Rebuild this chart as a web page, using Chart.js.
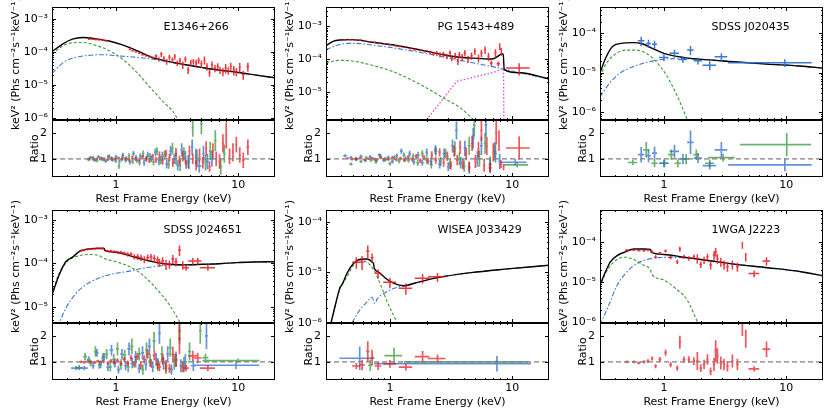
<!DOCTYPE html>
<html>
<head>
<meta charset="utf-8">
<script src="https://cdn.jsdelivr.net/npm/chart.js@4.4.1/dist/chart.umd.min.js"></script>
<style>
  html, body { margin: 0; padding: 0; background: #fff; }
  #fig { position: relative; width: 830px; height: 415px; overflow: hidden; background: #fff; }
  #fig canvas { position: absolute; }
</style>
</head>
<body>
<div id="fig"></div>
<script>
// ---------- axes ----------
const xMin = 0.3, xMax = 20;
const xMajor = [1, 10];
const xLabels = ['1', '10'];
const xMinor = [0.3, 0.4, 0.5, 0.6, 0.7, 0.8, 0.9, 2, 3, 4, 5, 6, 7, 8, 9, 20];
const powTicks = [1e-6, 1e-5, 1e-4, 1e-3];
const powLabels = ['10⁻⁶', '10⁻⁵', '10⁻⁴', '10⁻³'];
const minorMult = [2, 3, 4, 5, 6, 7, 8, 9];
const ratioMin = 0.3, ratioMax = 2.5;
const ratioTicks = [1, 2];
const ratioLabels = ['1', '2'];
const unityLine = [[0.3, 1], [20, 1]];

const panelNames = ['E1346+266', 'PG 1543+489', 'SDSS J020435', 'SDSS J024651', 'WISEA J033429', '1WGA J2223'];
const yMins = [8.5e-7, 1.45e-6, 6.2e-7, 4.2e-6, 9.9e-7, 9.3e-7];
const yMaxs = [2.26e-3, 3.85e-3, 4.7e-4, 1.7e-3, 1.7e-4, 6.2e-4];

// ---------- E1346+266 ----------
// models: [E keV, keV^2 flux]
const p1Total = [[0.30,1.0e-4],[0.366,1.7e-4],[0.44,2.4e-4],[0.533,2.7e-4],[0.686,2.45e-4],[0.88,2.1e-4],[1.13,1.6e-4],[1.55,1.0e-4],[2.0,6.6e-5],[2.73,5.0e-5],[3.74,4.0e-5],[5.1,3.3e-5],[7.0,2.75e-5],[10,2.34e-5],[14,1.95e-5],[20.4,1.6e-5]];
const p1Soft = [[0.30,8.5e-5],[0.366,1.48e-4],[0.44,1.86e-4],[0.533,1.9e-4],[0.686,1.55e-4],[0.88,1.07e-4],[1.13,6.0e-5],[1.46,2.5e-5],[1.87,8.9e-6],[2.4,3.2e-6],[3.1,1.1e-6],[3.3,6e-7]];
const p1Pow = [[0.30,2.2e-5],[0.366,4.5e-5],[0.44,6.3e-5],[0.57,7.6e-5],[0.78,8.1e-5],[1.06,7.4e-5],[1.46,6.8e-5],[2.0,5.9e-5],[2.73,4.9e-5],[3.74,4.0e-5],[5.1,3.3e-5],[7.0,2.75e-5],[10,2.34e-5],[14,1.95e-5],[20.4,1.6e-5]];
// data: [E, F, dE, dF]
const p1Red = [[0.605,2.4e-4,0.015,1.5e-5],[0.644,2.4e-4,0.016,1.5e-5],[0.686,2.35e-4,0.017,1.5e-5],[0.73,2.3e-4,0.018,1.5e-5],[0.777,2.24e-4,0.019,1.5e-5],[0.828,2.14e-4,0.02,1.5e-5],
  [1.30,1.17e-4,0.03,7e-6],[1.37,1.07e-4,0.03,7e-6],[1.46,9.8e-5,0.035,6e-6],[1.55,8.9e-5,0.035,6e-6],[1.65,8.1e-5,0.04,6e-6],[1.76,7.6e-5,0.04,6e-6],[1.88,7.1e-5,0.045,6e-6],[2.0,6.6e-5,0.045,6e-6],
  [2.13,7.4e-5,0.05,1.0e-5],[2.24,5.9e-5,0.05,9e-6],[2.35,8.3e-5,0.05,1.5e-5],[2.47,6.3e-5,0.05,1.0e-5],[2.6,5.0e-5,0.06,1.0e-5],[2.74,6.8e-5,0.06,1.3e-5],[2.9,5.6e-5,0.06,1.1e-5],[3.03,7.1e-5,0.06,1.4e-5],[3.18,4.5e-5,0.07,9e-6],[3.34,5.4e-5,0.07,1.1e-5],[3.52,4.0e-5,0.07,1.0e-5],[3.7,5.9e-5,0.08,1.2e-5],[3.9,2.8e-5,0.08,7e-6],[4.1,4.7e-5,0.08,1.0e-5],[4.3,5.0e-5,0.09,1.0e-5],[4.53,4.5e-5,0.09,1.2e-5],[4.75,5.4e-5,0.1,1.1e-5],[5.0,4.3e-5,0.1,1.1e-5],[5.3,5.6e-5,0.1,1.5e-5],[5.55,3.55e-5,0.11,9e-6],[5.83,2.34e-5,0.12,6e-6],[6.1,4.0e-5,0.12,1.0e-5],[6.45,3.2e-5,0.13,8e-6],[6.8,3.55e-5,0.14,9e-6],[7.1,2.8e-5,0.14,7e-6],[7.5,2.5e-5,0.15,7e-6],[7.9,3.2e-5,0.16,1.0e-5],[8.3,2.7e-5,0.17,7e-6],[8.7,3.55e-5,0.17,1.1e-5],[9.2,2.8e-5,0.18,9e-6],[9.65,2.5e-5,0.19,7e-6],[10.3,3.4e-5,0.2,1.1e-5],[11.0,2.0e-5,0.25,6e-6],[12.0,3.55e-5,0.3,1.1e-5]];
// ratios: [E, ratio, dE, dRatio]
const p1RatioRed = [[0.6,1.0,0.015,0.04],[0.65,0.98,0.016,0.04],[0.7,1.01,0.017,0.04],[0.75,0.99,0.018,0.04],[0.8,1.02,0.02,0.04],[0.86,0.97,0.02,0.05],[0.92,1.03,0.02,0.05],[0.98,0.99,0.025,0.05],[1.05,1.04,0.025,0.05],[1.12,0.98,0.03,0.06],[1.2,1.02,0.03,0.06],[1.28,0.97,0.03,0.06],[1.36,1.05,0.03,0.07],[1.45,1.0,0.035,0.07],[1.55,0.95,0.035,0.07],[1.65,1.08,0.04,0.08],[1.76,1.0,0.04,0.08],[1.88,0.93,0.045,0.09],[2.0,1.1,0.045,0.1],[2.13,0.96,0.05,0.12],[2.27,1.15,0.05,0.13],[2.41,0.9,0.05,0.13],[2.57,1.2,0.06,0.15],[2.74,1.05,0.06,0.15],[2.92,0.85,0.06,0.15],[3.1,1.25,0.07,0.17],[3.31,0.95,0.07,0.17],[3.52,1.1,0.07,0.2],[3.75,0.8,0.08,0.18],[3.99,1.3,0.08,0.22],[4.25,1.0,0.09,0.2],[4.53,0.75,0.09,0.2],[4.83,1.15,0.1,0.25],[5.14,0.85,0.1,0.22],[5.47,1.4,0.11,0.28],[5.83,0.7,0.12,0.2],[6.21,1.3,0.12,0.3],[6.61,1.0,0.13,0.28],[7.04,0.9,0.14,0.28],[7.5,1.6,0.15,0.35],[7.98,1.9,0.16,0.5],[8.5,1.1,0.17,0.3],[9.06,1.25,0.18,0.35],[9.65,1.55,0.19,0.3],[10.3,1.15,0.2,0.3],[11.0,0.95,0.25,0.3],[12.0,1.45,0.3,0.3]];
const p1RatioBlue = [[0.62,1.05,0.02,0.06],[0.67,0.95,0.02,0.06],[0.72,1.08,0.02,0.06],[0.77,1.0,0.02,0.07],[0.83,0.92,0.02,0.07],[0.88,1.1,0.02,0.07],[0.94,0.97,0.025,0.08],[1.0,1.08,0.025,0.08],[1.07,0.9,0.025,0.08],[1.14,1.15,0.03,0.09],[1.22,1.0,0.03,0.09],[1.3,0.88,0.03,0.1],[1.39,1.2,0.035,0.1],[1.48,0.95,0.035,0.1],[1.58,1.1,0.04,0.11],[1.7,0.85,0.04,0.12],[1.82,1.15,0.045,0.12],[1.95,1.0,0.05,0.13],[2.1,1.25,0.05,0.15],[2.25,0.9,0.05,0.15],[2.4,1.1,0.06,0.17],[2.6,0.8,0.06,0.17],[2.8,1.3,0.07,0.2],[3.0,1.0,0.07,0.2],[3.2,0.75,0.08,0.2],[3.45,1.35,0.08,0.25],[3.7,1.05,0.09,0.25],[3.95,0.85,0.1,0.25],[4.2,1.45,0.1,0.3],[4.5,1.1,0.1,0.3],[4.8,0.72,0.2,0.25],[5.2,1.2,0.12,0.3],[5.6,0.9,0.15,0.3],[6.1,1.0,0.2,0.3]];
const p1RatioGreen = [[0.6,0.97,0.02,0.06],[0.65,1.05,0.02,0.06],[0.7,0.93,0.02,0.06],[0.75,1.02,0.02,0.07],[0.8,0.95,0.02,0.07],[0.86,1.08,0.02,0.07],[0.92,1.0,0.025,0.08],[1.0,0.92,0.025,0.08],[1.06,0.72,0.025,0.1],[1.13,1.05,0.03,0.09],[1.2,0.95,0.03,0.09],[1.28,1.12,0.03,0.1],[1.37,0.9,0.035,0.1],[1.46,1.05,0.035,0.1],[1.56,0.85,0.04,0.11],[1.67,1.2,0.04,0.12],[1.78,1.0,0.045,0.12],[1.9,1.1,0.05,0.13],[2.03,0.88,0.05,0.14],[2.17,1.3,0.05,0.15],[2.33,0.95,0.06,0.16],[2.5,1.15,0.06,0.17],[2.7,0.8,0.07,0.18],[2.9,1.4,0.07,0.22],[3.1,1.0,0.08,0.22],[3.35,0.75,0.08,0.22],[3.6,1.2,0.09,0.25],[3.9,0.9,0.1,0.25],[4.25,2.2,0.1,0.35],[4.6,1.05,0.1,0.3],[5.0,2.35,0.12,0.4],[5.4,0.85,0.12,0.3],[5.9,1.3,0.15,0.35],[6.5,1.7,0.15,0.4],[7.2,0.7,0.2,0.3],[7.7,1.2,0.2,0.35]];

// ---------- PG 1543+489 ----------
const p2Total = [[0.30,2.6e-4],[0.343,3.5e-4],[0.389,3.85e-4],[0.47,3.95e-4],[0.567,3.8e-4],[0.686,3.35e-4],[1.0,2.8e-4],[1.46,2.2e-4],[2.0,1.75e-4],[2.74,1.38e-4],[3.75,1.15e-4],[5.14,1.07e-4],[6.8,1.02e-4],[7.5,1.18e-4],[8.2,1.45e-4],[8.45,1.45e-4],[8.6,4.9e-5],[11.6,3.9e-5],[20.4,2.5e-5]];
const p2Soft = [[0.30,8.1e-5],[0.389,9.3e-5],[0.47,9.1e-5],[0.567,8.1e-5],[0.777,6.1e-5],[1.0,4.6e-5],[1.46,2.5e-5],[2.0,1.35e-5],[2.74,6.7e-6],[3.75,3.4e-6],[4.83,1.5e-6],[5.5,1.0e-6]];
const p2Pow = [[0.30,1.96e-4],[0.389,2.8e-4],[0.47,3.05e-4],[0.567,3.0e-4],[0.777,2.6e-4],[1.0,2.3e-4],[1.46,1.83e-4],[2.0,1.49e-4],[2.74,1.18e-4],[3.75,9.3e-5],[5.14,7.4e-5],[7.04,5.9e-5],[8.5,5.1e-5],[11.6,3.9e-5],[20.4,2.5e-5]];
const p2Line = [[1.84,1.0e-6],[3.52,2.15e-5],[5.14,3.05e-5],[7.04,4.0e-5],[8.2,5.1e-5],[8.5,5.2e-5],[8.55,1.0e-6]];
const p2Red = [[0.43,3.94e-4,0.012,2.0e-5],[0.47,3.94e-4,0.013,2.0e-5],[0.52,3.9e-4,0.014,2.0e-5],[0.567,3.77e-4,0.015,1.9e-5],[0.62,3.6e-4,0.016,1.8e-5],[0.686,3.43e-4,0.018,1.7e-5],[0.75,3.27e-4,0.02,1.7e-5],[0.83,3.12e-4,0.022,1.6e-5],[0.91,2.98e-4,0.024,1.6e-5],[1.0,2.78e-4,0.026,1.5e-5],[1.1,2.59e-4,0.028,1.5e-5],[1.2,2.48e-4,0.03,1.5e-5],[1.32,2.31e-4,0.033,1.5e-5],[1.46,2.15e-4,0.036,1.5e-5],[1.6,1.96e-4,0.04,1.5e-5],[1.76,1.87e-4,0.044,1.5e-5],[1.93,1.75e-4,0.048,1.6e-5],[2.13,1.63e-4,0.05,2.0e-5],[2.27,1.48e-4,0.05,2.0e-5],[2.41,1.56e-4,0.05,2.2e-5],[2.57,1.38e-4,0.06,2.2e-5],[2.74,1.45e-4,0.06,2.5e-5],[2.92,1.23e-4,0.06,2.2e-5],[3.1,1.56e-4,0.07,3.0e-5],[3.2,1.1e-4,0.07,2.2e-5],[3.42,1.29e-4,0.07,2.8e-5],[3.6,8.7e-5,0.08,2.0e-5],[3.7,1.38e-4,0.08,3.0e-5],[3.9,1.18e-4,0.08,2.8e-5],[4.1,1.56e-4,0.09,3.5e-5],[4.35,1.02e-4,0.09,2.5e-5],[4.65,1.29e-4,0.1,3.2e-5],[4.95,1.75e-4,0.1,4.0e-5],[5.3,1.1e-4,0.11,3.0e-5],[5.6,1.56e-4,0.12,4.0e-5],[6.0,1.96e-4,0.12,5.0e-5],[6.4,1.23e-4,0.13,3.5e-5],[6.75,7.74e-5,0.2,1.5e-5],[7.3,1.56e-4,0.15,4.5e-5],[7.7,7.4e-5,0.25,1.2e-5],[7.9,2.48e-4,0.1,6.0e-5],[8.15,1.75e-4,0.1,5.0e-5],[11.4,5.46e-5,2.5,2.2e-5]];
const p2RatioRed = [[0.45,1.02,0.012,0.04],[0.49,0.98,0.013,0.04],[0.53,1.0,0.014,0.04],[0.57,1.03,0.015,0.04],[0.62,0.97,0.016,0.04],[0.67,1.0,0.017,0.04],[0.72,1.02,0.018,0.05],[0.78,0.96,0.02,0.05],[0.84,1.04,0.022,0.05],[0.9,1.0,0.024,0.05],[0.97,0.98,0.026,0.05],[1.05,1.05,0.028,0.06],[1.13,0.97,0.03,0.06],[1.22,1.02,0.032,0.06],[1.31,0.95,0.034,0.07],[1.41,1.07,0.036,0.07],[1.52,0.98,0.04,0.08],[1.64,1.1,0.042,0.09],[1.77,0.93,0.045,0.09],[1.9,1.05,0.05,0.1],[2.05,0.9,0.05,0.12],[2.2,1.15,0.05,0.14],[2.37,0.95,0.06,0.14],[2.55,1.25,0.06,0.16],[2.75,0.85,0.06,0.15],[2.95,1.1,0.07,0.18],[3.15,0.75,0.07,0.16],[3.35,1.3,0.07,0.22],[3.55,0.95,0.08,0.2],[3.75,1.45,0.08,0.25],[3.95,0.8,0.08,0.2],[4.2,1.2,0.09,0.25],[4.45,0.7,0.09,0.2],[4.7,1.6,0.1,0.3],[5.0,0.9,0.1,0.25],[5.3,1.35,0.11,0.3],[5.6,2.1,0.12,0.4],[5.9,0.75,0.12,0.25],[6.2,1.5,0.13,0.35],[6.6,0.65,0.2,0.2],[7.0,1.25,0.14,0.35],[7.4,2.0,0.15,0.45],[7.8,1.7,0.1,0.4],[8.1,0.8,0.15,0.15],[8.5,0.68,0.15,0.12],[11.4,1.42,2.5,0.45]];
const p2RatioBlue = [[0.43,1.12,0.015,0.06],[0.48,1.05,0.015,0.06],[0.53,0.97,0.016,0.06],[0.58,1.1,0.017,0.06],[0.63,0.93,0.018,0.06],[0.69,1.08,0.02,0.07],[0.75,0.98,0.022,0.07],[0.82,1.15,0.024,0.07],[0.89,0.95,0.026,0.08],[0.97,1.05,0.028,0.08],[1.05,0.9,0.03,0.08],[1.14,1.12,0.032,0.09],[1.24,1.3,0.035,0.1],[1.34,1.0,0.038,0.1],[1.45,1.2,0.04,0.11],[1.57,0.88,0.044,0.11],[1.7,1.15,0.048,0.12],[1.84,0.85,0.05,0.12],[2.0,1.25,0.05,0.15],[2.17,0.9,0.06,0.15],[2.35,1.35,0.06,0.18],[2.55,0.8,0.07,0.17],[2.77,1.2,0.07,0.2],[3.0,0.7,0.08,0.18],[3.25,1.5,0.08,0.25],[3.5,2.1,0.09,0.35],[3.8,0.85,0.1,0.22],[4.1,1.4,0.1,0.3],[4.45,0.65,0.11,0.22],[4.8,1.8,0.12,0.4],[5.2,1.0,0.13,0.3],[5.6,1.5,0.14,0.35],[6.1,2.3,0.15,0.45],[6.6,0.75,0.16,0.25],[7.2,1.3,0.18,0.35],[7.9,0.9,0.2,0.3],[10.6,0.87,2.5,0.12]];
const p2RatioGreen = [[0.48,0.8,0.015,0.06],[0.53,1.02,0.016,0.06],[0.58,0.9,0.017,0.06],[0.64,1.05,0.018,0.06],[0.7,0.95,0.02,0.07],[0.77,0.88,0.022,0.07],[0.84,1.1,0.024,0.08],[0.92,0.98,0.026,0.08],[1.0,0.82,0.028,0.08],[1.09,1.05,0.03,0.09],[1.19,0.92,0.033,0.09],[1.3,1.15,0.036,0.1],[1.42,0.95,0.04,0.1],[1.55,1.1,0.043,0.11],[1.69,0.85,0.047,0.12],[1.84,1.2,0.05,0.13],[2.0,0.95,0.055,0.14],[2.18,0.78,0.06,0.15],[2.38,1.3,0.065,0.18],[2.6,0.9,0.07,0.18],[2.85,1.2,0.08,0.2],[3.1,0.8,0.085,0.2],[3.4,1.4,0.09,0.28],[3.7,1.0,0.1,0.25],[4.05,0.72,0.11,0.22],[4.45,1.5,0.12,0.35],[4.9,2.3,0.13,0.45],[5.4,1.0,0.15,0.3],[6.0,1.6,0.16,0.4],[6.6,0.8,0.18,0.3],[7.3,1.2,0.2,0.35],[11.0,0.77,2.5,0.1]];

// ---------- SDSS J020435 ----------
const p3Total = [[0.30,1.0e-5],[0.337,2.5e-5],[0.38,4.6e-5],[0.447,5.55e-5],[0.557,5.8e-5],[0.673,5.35e-5],[0.81,4.1e-5],[1.0,3.1e-5],[1.43,2.45e-5],[1.96,2.2e-5],[3.68,1.9e-5],[6.9,1.65e-5],[12.9,1.47e-5],[20.1,1.3e-5]];
const p3Soft = [[0.30,8.1e-6],[0.337,1.7e-5],[0.41,3.1e-5],[0.49,3.75e-5],[0.59,3.75e-5],[0.717,3.1e-5],[0.865,1.9e-5],[1.045,8.7e-6],[1.26,2.9e-6],[1.48,9.1e-7],[1.6,5e-7]];
const p3Pow = [[0.30,2.4e-6],[0.358,5.3e-6],[0.433,9.5e-6],[0.557,1.41e-5],[0.763,1.9e-5],[1.0,2.2e-5],[1.43,2.25e-5],[1.96,2.2e-5],[3.68,1.9e-5],[6.9,1.65e-5],[12.9,1.47e-5],[20.1,1.3e-5]];
const p3Blue = [[0.652,6.5e-5,0.04,1.7e-5],[0.748,5.55e-5,0.035,1.3e-5],[0.838,5.25e-5,0.04,1.2e-5],[1.0,2.44e-5,0.09,5e-6],[1.22,3.1e-5,0.11,7e-6],[1.43,2.17e-5,0.12,4e-6],[1.65,3.75e-5,0.1,1.0e-5],[1.9,2.0e-5,0.15,4e-6],[2.37,1.55e-5,0.3,4e-6],[2.95,2.53e-5,0.35,6e-6],[9.75,1.78e-5,6.4,4e-6]];
const p3RatioBlue = [[0.652,1.16,0.04,0.3],[0.748,1.12,0.035,0.25],[0.838,1.22,0.04,0.25],[1.0,0.83,0.09,0.15],[1.22,1.29,0.11,0.25],[1.43,1.0,0.12,0.2],[1.65,1.64,0.1,0.45],[1.9,1.03,0.15,0.2],[2.37,0.74,0.3,0.15],[2.95,1.35,0.35,0.3],[9.75,0.77,6.4,0.25]];
const p3RatioGreen = [[0.557,0.86,0.05,0.1],[0.717,1.35,0.04,0.3],[0.838,0.83,0.05,0.15],[1.01,0.83,0.08,0.15],[1.15,1.16,0.07,0.2],[1.3,0.83,0.08,0.15],[1.52,0.99,0.09,0.2],[1.84,1.16,0.1,0.2],[2.37,0.83,0.2,0.15],[3.05,1.05,0.75,0.15],[10.1,1.55,5.9,0.45]];

// ---------- SDSS J024651 ----------
const p4Total = [[0.30,1.86e-5],[0.343,5.4e-5],[0.389,1.09e-4],[0.44,1.37e-4],[0.50,1.86e-4],[0.567,2.1e-4],[0.686,2.2e-4],[0.80,2.2e-4],[0.82,1.93e-4],[1.0,1.8e-4],[1.29,1.5e-4],[1.65,1.24e-4],[2.13,1.05e-4],[2.74,9.5e-5],[3.75,9.2e-5],[5.14,9.5e-5],[7.04,9.8e-5],[9.65,1.04e-4],[13.2,1.07e-4],[20.4,1.09e-4]];
const p4Soft = [[0.30,2.0e-5],[0.343,5.9e-5],[0.415,1.2e-4],[0.50,1.5e-4],[0.605,1.6e-4],[0.73,1.5e-4],[0.80,1.3e-4],[1.0,1.09e-4],[1.29,8.4e-5],[1.65,5.4e-5],[2.13,2.65e-5],[2.74,1.1e-5],[3.31,4.5e-6],[3.64,2.6e-6]];
const p4Pow = [[0.31,2.0e-6],[0.389,9.2e-6],[0.47,2.0e-5],[0.567,3.2e-5],[0.777,4.9e-5],[1.0,5.9e-5],[1.29,6.6e-5],[1.65,7.7e-5],[2.13,8.5e-5],[2.74,9.2e-5],[3.75,9.2e-5],[5.14,9.5e-5],[7.04,9.8e-5],[9.65,1.04e-4],[13.2,1.07e-4],[20.4,1.09e-4]];
const p4Red = [[0.517,1.96e-4,0.015,1.2e-5],[0.55,2.03e-4,0.016,1.2e-5],[0.586,2.1e-4,0.017,1.2e-5],[0.624,2.14e-4,0.018,1.2e-5],[0.665,2.18e-4,0.019,1.2e-5],[0.708,2.22e-4,0.02,1.2e-5],[0.754,2.22e-4,0.021,1.2e-5],[0.787,2.22e-4,0.015,1.3e-5],[0.855,1.93e-4,0.024,1.3e-5],[0.91,1.93e-4,0.026,1.3e-5],[0.969,1.86e-4,0.028,1.4e-5],[1.032,1.79e-4,0.03,1.4e-5],[1.099,1.79e-4,0.03,1.5e-5],[1.17,1.7e-4,0.035,1.6e-5],[1.246,1.61e-4,0.035,1.8e-5],[1.327,1.61e-4,0.04,2.0e-5],[1.413,1.42e-4,0.04,2.0e-5],[1.505,1.42e-4,0.045,2.2e-5],[1.603,1.35e-4,0.045,2.2e-5],[1.707,1.24e-4,0.05,2.2e-5],[1.818,1.35e-4,0.05,2.5e-5],[1.936,1.4e-4,0.055,2.5e-5],[2.06,1.3e-4,0.06,2.5e-5],[2.19,1.19e-4,0.06,2.5e-5],[2.27,1.05e-4,0.06,2.2e-5],[2.41,1.13e-4,0.07,2.5e-5],[2.57,9.5e-5,0.07,2.5e-5],[2.74,9.5e-5,0.08,2.0e-5],[2.92,1.26e-4,0.08,3.0e-5],[3.1,1.09e-4,0.09,2.5e-5],[3.31,2.03e-4,0.09,5.5e-5],[3.52,9.2e-5,0.1,2.0e-5],[3.75,7.9e-5,0.2,1.2e-5],[4.25,1.13e-4,0.35,2.0e-5],[4.67,1.13e-4,0.35,2.0e-5],[5.65,7.9e-5,0.8,1.2e-5]];
const p4RatioRed = [[0.52,1.0,0.015,0.05],[0.55,0.98,0.016,0.05],[0.59,1.02,0.017,0.05],[0.62,1.0,0.018,0.05],[0.67,0.97,0.019,0.05],[0.71,1.03,0.02,0.05],[0.75,1.0,0.021,0.05],[0.79,1.02,0.015,0.06],[0.86,0.96,0.024,0.06],[0.91,1.04,0.026,0.07],[0.97,0.98,0.028,0.07],[1.03,1.06,0.03,0.08],[1.1,0.93,0.03,0.08],[1.17,1.1,0.035,0.09],[1.25,0.95,0.035,0.1],[1.33,1.15,0.04,0.12],[1.41,0.9,0.04,0.12],[1.5,1.2,0.045,0.14],[1.6,0.85,0.045,0.14],[1.7,1.1,0.05,0.15],[1.82,1.3,0.05,0.18],[1.94,0.95,0.055,0.16],[2.06,1.25,0.06,0.2],[2.19,0.9,0.06,0.18],[2.27,0.8,0.06,0.16],[2.41,1.1,0.07,0.2],[2.57,0.85,0.07,0.22],[2.74,0.75,0.08,0.18],[2.92,1.3,0.08,0.28],[3.1,1.05,0.09,0.25],[3.31,1.9,0.09,0.6],[3.52,0.8,0.1,0.2],[3.75,0.76,0.2,0.12],[4.25,1.23,0.35,0.2],[4.67,1.15,0.35,0.2],[5.65,0.76,0.8,0.12]];
const p4RatioBlue = [[0.47,0.76,0.04,0.08],[0.55,0.76,0.04,0.08],[0.6,1.1,0.02,0.12],[0.65,0.85,0.02,0.12],[0.7,1.35,0.02,0.15],[0.75,0.9,0.02,0.14],[0.8,1.2,0.025,0.15],[0.86,0.8,0.025,0.15],[0.92,1.45,0.03,0.2],[0.98,0.95,0.03,0.17],[1.05,0.7,0.03,0.15],[1.12,1.3,0.035,0.2],[1.2,0.85,0.035,0.18],[1.28,1.5,0.04,0.25],[1.36,0.95,0.04,0.2],[1.45,1.2,0.045,0.22],[1.55,0.75,0.045,0.18],[1.65,1.35,0.05,0.25],[1.76,0.9,0.05,0.22],[1.88,1.6,0.055,0.3],[2.0,0.8,0.06,0.2],[2.13,1.1,0.06,0.25],[2.27,2.1,0.06,0.4],[2.45,0.95,0.07,0.25],[2.65,1.3,0.07,0.3],[2.85,0.7,0.08,0.2],[3.1,1.1,0.09,0.3],[3.4,0.85,0.1,0.25],[3.7,1.0,0.1,0.3],[4.3,0.85,0.2,0.2],[5.5,2.0,0.15,0.5],[9.6,0.87,5.3,0.15]];
const p4RatioGreen = [[0.5,0.78,0.03,0.1],[0.56,1.2,0.02,0.15],[0.62,0.95,0.02,0.12],[0.68,1.4,0.02,0.2],[0.73,0.88,0.02,0.15],[0.78,1.15,0.025,0.18],[0.84,1.3,0.025,0.2],[0.9,0.8,0.025,0.17],[0.96,1.1,0.03,0.2],[1.03,1.5,0.03,0.25],[1.1,0.9,0.03,0.2],[1.18,1.25,0.035,0.22],[1.26,0.8,0.035,0.2],[1.35,1.6,0.04,0.3],[1.45,1.0,0.04,0.22],[1.55,1.3,0.045,0.25],[1.66,0.7,0.045,0.2],[1.78,1.45,0.05,0.3],[1.9,1.05,0.05,0.25],[2.05,1.8,0.06,0.35],[2.2,0.9,0.06,0.25],[2.38,1.3,0.07,0.3],[2.56,0.75,0.07,0.22],[2.78,1.55,0.08,0.35],[3.0,1.0,0.08,0.3],[3.31,2.2,0.09,0.5],[3.6,0.9,0.1,0.3],[4.0,1.4,0.12,0.35],[4.9,2.2,0.12,0.5],[5.4,1.16,0.3,0.15],[10.0,1.05,4.9,0.08]];

// ---------- WISEA J033429 ----------
const p5Total = [[0.33,1.0e-6],[0.357,2.2e-6],[0.392,5.1e-6],[0.405,5.6e-6],[0.445,9.5e-6],[0.505,1.5e-5],[0.573,1.8e-5],[0.65,1.82e-5],[0.715,1.6e-5],[0.735,1.45e-5],[0.745,1.2e-5],[0.81,1.0e-5],[0.92,7.6e-6],[1.08,6.0e-6],[1.3,5.4e-6],[1.68,6.3e-6],[2.45,7.8e-6],[4.6,9.8e-6],[8.7,1.15e-5],[20.4,1.38e-5]];
const p5Soft = [[0.33,1.0e-6],[0.357,2.2e-6],[0.392,4.8e-6],[0.445,8.1e-6],[0.505,1.38e-5],[0.573,1.74e-5],[0.65,1.57e-5],[0.738,1.1e-5],[0.84,5.6e-6],[0.95,2.6e-6],[1.15,9.8e-7]];
const p5Pow = [[0.49,1.0e-6],[0.555,1.66e-6],[0.65,2.6e-6],[0.715,3.2e-6],[0.75,2.4e-6],[0.79,3.0e-6],[0.89,3.8e-6],[1.08,4.8e-6],[1.3,5.4e-6],[1.68,6.3e-6],[2.45,7.8e-6],[4.6,9.8e-6],[8.7,1.15e-5],[20.4,1.38e-5]];
const p5Red = [[0.531,1.57e-5,0.04,4e-6],[0.592,1.6e-5,0.03,5e-6],[0.659,2.63e-5,0.02,7.5e-6],[0.715,1.94e-5,0.02,4e-6],[0.80,9.5e-6,0.05,2e-6],[1.0,6.3e-6,0.12,1.5e-6],[1.35,4.8e-6,0.17,1.2e-6],[1.85,7.6e-6,0.25,1.6e-6],[2.45,8.1e-6,0.4,1.6e-6]];
const p5RatioRed = [[0.531,0.84,0.04,0.12],[0.592,0.88,0.03,0.2],[0.659,1.4,0.02,0.4],[0.715,1.17,0.02,0.3],[0.80,0.84,0.05,0.15],[1.0,0.92,0.12,0.15],[1.35,0.8,0.17,0.13],[1.85,1.2,0.25,0.22],[2.45,1.13,0.4,0.15]];
const p5RatioBlue = [[0.566,1.14,0.18,0.45],[7.5,0.93,6.76,0.3]];
const p5RatioGreen = [[0.69,0.87,0.03,0.22],[1.08,1.24,0.18,0.3],[7.4,1.0,6.1,0.05]];

// ---------- 1WGA J2223 ----------
const p6Total = [[0.30,8.3e-6],[0.333,1.78e-5],[0.366,3.16e-5],[0.415,4.5e-5],[0.485,5.6e-5],[0.567,6.6e-5],[0.686,6.6e-5],[0.777,6.4e-5],[0.79,5.4e-5],[1.0,4.8e-5],[1.46,4.1e-5],[2.0,3.6e-5],[3.75,2.76e-5],[7.04,2.24e-5],[13.2,1.78e-5],[20.0,1.41e-5]];
const p6Soft = [[0.30,7.5e-6],[0.333,1.62e-5],[0.38,2.9e-5],[0.427,3.8e-5],[0.485,4.1e-5],[0.567,3.6e-5],[0.664,2.7e-5],[0.777,1.95e-5],[0.80,1.5e-5],[1.0,1.1e-5],[1.29,6.2e-6],[1.55,3.5e-6],[1.88,1.0e-6],[1.95,8e-7]];
const p6Pow = [[0.30,8.2e-7],[0.354,2.6e-6],[0.415,8.3e-6],[0.50,1.78e-5],[0.605,2.9e-5],[0.73,3.6e-5],[0.882,4.0e-5],[1.065,4.05e-5],[1.29,4.05e-5],[1.55,3.95e-5],[2.0,3.6e-5],[3.75,2.76e-5],[7.04,2.24e-5],[13.2,1.78e-5],[20.0,1.41e-5]];
const p6Red = [[0.50,6.2e-5,0.02,3e-6],[0.567,6.2e-5,0.02,3e-6],[0.624,6.0e-5,0.02,3e-6],[0.686,5.95e-5,0.02,3e-6],[0.74,6.2e-5,0.02,4e-6],[0.80,5.6e-5,0.02,4e-6],[0.855,4.2e-5,0.02,4e-6],[0.927,5.2e-5,0.025,4e-6],[1.032,5.85e-5,0.025,5e-6],[1.134,4.05e-5,0.03,4e-6],[1.286,3.16e-5,0.03,4e-6],[1.35,6.55e-5,0.03,9e-6],[1.46,4.2e-5,0.04,5e-6],[1.6,3.83e-5,0.04,5e-6],[1.76,4.2e-5,0.04,6e-6],[1.876,3.83e-5,0.05,1.0e-5],[2.0,2.71e-5,0.05,5e-6],[2.13,3.48e-5,0.05,7e-6],[2.27,4.2e-5,0.05,8e-6],[2.41,2.61e-5,0.06,6e-6],[2.57,4.6e-5,0.06,1.2e-5],[2.65,5.6e-5,0.06,1.4e-5],[2.74,3.83e-5,0.06,1.0e-5],[2.92,3.16e-5,0.07,8e-6],[3.1,2.71e-5,0.07,7e-6],[3.31,2.37e-5,0.08,6e-6],[3.63,2.71e-5,0.08,7e-6],[3.99,2.37e-5,0.1,6e-6],[4.38,8.25e-5,0.06,1.6e-5],[4.67,4.2e-5,0.06,1.0e-5],[5.47,1.6e-5,0.55,3e-6],[6.9,3.29e-5,0.5,8e-6]];
const p6RatioRed = [[0.50,1.0,0.02,0.05],[0.567,1.0,0.02,0.05],[0.624,0.96,0.02,0.05],[0.686,1.0,0.02,0.06],[0.74,1.03,0.02,0.07],[0.80,1.13,0.02,0.08],[0.855,0.83,0.02,0.08],[0.927,1.09,0.025,0.1],[1.032,1.36,0.025,0.12],[1.134,0.89,0.03,0.1],[1.286,0.76,0.03,0.1],[1.35,1.76,0.03,0.25],[1.46,1.09,0.04,0.12],[1.6,1.09,0.04,0.13],[1.76,1.03,0.04,0.15],[1.876,1.03,0.05,0.35],[2.0,0.76,0.05,0.15],[2.13,0.9,0.05,0.18],[2.27,1.09,0.05,0.2],[2.41,0.63,0.06,0.15],[2.57,0.9,0.06,0.25],[2.65,1.43,0.06,0.4],[2.74,1.23,0.06,0.3],[2.92,0.96,0.07,0.25],[3.1,0.9,0.07,0.22],[3.31,0.83,0.08,0.2],[3.63,1.03,0.08,0.25],[3.99,0.9,0.1,0.22],[4.38,2.3,0.06,0.3],[4.67,1.89,0.06,0.35],[5.47,0.73,0.55,0.1],[6.9,1.49,0.5,0.3]];

// ---------- look ----------
const RED = 'rgba(232,22,30,0.85)';
const RED_R = 'rgba(232,22,30,0.72)';
const BLUE = 'rgba(40,105,205,0.9)';
const BLUE_R = 'rgba(40,105,205,0.72)';
const GREEN_R = 'rgba(50,150,50,0.72)';

Chart.defaults.font.family = "'DejaVu Sans', sans-serif";
Chart.defaults.font.size = 11;
Chart.defaults.color = '#000';

const panels = [
  { total: p1Total, soft: p1Soft, pow: p1Pow, line: null, data: [[p1Red, RED]], ratio: [[p1RatioGreen, GREEN_R], [p1RatioBlue, BLUE_R], [p1RatioRed, RED_R]] },
  { total: p2Total, soft: p2Soft, pow: p2Pow, line: p2Line, data: [[p2Red, RED]], ratio: [[p2RatioGreen, GREEN_R], [p2RatioBlue, BLUE_R], [p2RatioRed, RED_R]] },
  { total: p3Total, soft: p3Soft, pow: p3Pow, line: null, data: [[p3Blue, BLUE]], ratio: [[p3RatioGreen, GREEN_R], [p3RatioBlue, BLUE_R]] },
  { total: p4Total, soft: p4Soft, pow: p4Pow, line: null, data: [[p4Red, RED]], ratio: [[p4RatioGreen, GREEN_R], [p4RatioBlue, BLUE_R], [p4RatioRed, RED_R]] },
  { total: p5Total, soft: p5Soft, pow: p5Pow, line: null, data: [[p5Red, RED]], ratio: [[p5RatioGreen, GREEN_R], [p5RatioBlue, BLUE_R], [p5RatioRed, RED_R]] },
  { total: p6Total, soft: p6Soft, pow: p6Pow, line: null, data: [[p6Red, RED]], ratio: [[p6RatioRed, RED_R]] },
];

// layout (page pixels)
const colLeft = [52, 326, 600];
const rowTop = [7, 210];
const plotW = 223, mainH = 113, ratioH = 57;
const yAxisW = 60, padR = 10;

const fig = document.getElementById('fig');
function addCanvas(left, top, w, h) {
  const c = document.createElement('canvas');
  c.width = w; c.height = h;
  c.style.left = left + 'px'; c.style.top = top + 'px';
  c.style.width = w + 'px'; c.style.height = h + 'px';
  fig.appendChild(c);
  return c;
}

function lineDs(pts, color, width, dash, smooth) {
  return {
    data: pts.map(p => ({ x: p[0], y: p[1] })),
    borderColor: color, borderWidth: width, borderDash: dash,
    pointRadius: 0, fill: false, clip: 0, tension: 0,
    cubicInterpolationMode: smooth ? 'monotone' : 'default'
  };
}

// error-bar crosses, drawn through the chart's own scales
function crossPlugin(sets, width, hook) {
  const draw = chart => {
    const { ctx, chartArea: a, scales: { x, y } } = chart;
    ctx.save();
    ctx.beginPath();
    ctx.rect(a.left, a.top, a.right - a.left, a.bottom - a.top);
    ctx.clip();
    ctx.lineWidth = width;
    sets.forEach(([pts, color]) => {
      ctx.strokeStyle = color;
      ctx.beginPath();
      pts.forEach(([e, f, de, df]) => {
        const px = x.getPixelForValue(e), py = y.getPixelForValue(f);
        ctx.moveTo(x.getPixelForValue(Math.max(e - de, 1e-3)), py);
        ctx.lineTo(x.getPixelForValue(e + de), py);
        ctx.moveTo(px, y.getPixelForValue(Math.max(f - df, 1e-12)));
        ctx.lineTo(px, y.getPixelForValue(f + df));
      });
      ctx.stroke();
    });
    ctx.restore();
  };
  return { id: 'crosses', [hook]: draw };
}

// frame with inward ticks on all four sides, plus the panel name
function framePlugin(yMajor, yMinor, name) {
  return {
    id: 'frame',
    afterDraw(chart) {
      const { ctx, chartArea: a, scales: { x, y } } = chart;
      ctx.save();
      ctx.strokeStyle = '#000';
      ctx.lineWidth = 1;
      ctx.beginPath();
      const xt = (v, len) => {
        const p = Math.round(x.getPixelForValue(v)) + 0.5;
        if (p < a.left || p > a.right) return;
        ctx.moveTo(p, a.bottom); ctx.lineTo(p, a.bottom - len);
        ctx.moveTo(p, a.top); ctx.lineTo(p, a.top + len);
      };
      const yt = (v, len) => {
        const p = Math.round(y.getPixelForValue(v)) + 0.5;
        if (p < a.top || p > a.bottom) return;
        ctx.moveTo(a.left, p); ctx.lineTo(a.left + len, p);
        ctx.moveTo(a.right, p); ctx.lineTo(a.right - len, p);
      };
      xMajor.forEach(v => xt(v, 4));
      xMinor.forEach(v => xt(v, 2));
      yMajor.forEach(v => yt(v, 4));
      yMinor.forEach(v => yt(v, 2));
      ctx.stroke();
      ctx.strokeRect(a.left + 0.5, a.top + 0.5, a.right - a.left - 1, a.bottom - a.top - 1);
      if (name) {
        ctx.fillStyle = '#000';
        ctx.font = "11px 'DejaVu Sans', sans-serif";
        ctx.textAlign = 'left';
        ctx.textBaseline = 'middle';
        ctx.fillText(name, a.left + 0.5 * (a.right - a.left), a.top + 20);
      }
      ctx.restore();
    }
  };
}

panels.forEach((p, i) => {
  const L = colLeft[i % 3], T = rowTop[Math.floor(i / 3)];
  const yMin = yMins[i], yMax = yMaxs[i];
  const majors = powTicks.filter(v => v >= yMin && v <= yMax);
  const minors = [];
  for (let d = -7; d <= -2; d++) minorMult.forEach(m => {
    const v = m * Math.pow(10, d);
    if (v > yMin && v < yMax) minors.push(v);
  });

  // ---- main spectrum panel ----
  const mc = addCanvas(L - yAxisW, T - 25, yAxisW + plotW + padR, 25 + mainH + 25);
  const ds = [lineDs(p.total, '#000', 1.4, [], true)];
  if (p.line) ds.push(lineDs(p.line, '#d846cf', 1.3, [1.5, 2], false));
  ds.push(lineDs(p.soft, '#3b9a34', 1.1, [3, 2], true));
  ds.push(lineDs(p.pow, '#3a78d8', 1.1, [5, 2, 1.5, 2], true));
  new Chart(mc, {
    type: 'line',
    data: { datasets: ds },
    options: {
      responsive: false, animation: false, devicePixelRatio: 1,
      layout: { padding: { top: 25, bottom: 25, left: 0, right: padR } },
      plugins: { legend: { display: false }, tooltip: { enabled: false } },
      scales: {
        x: { type: 'logarithmic', display: false, min: xMin, max: xMax, bounds: 'data' },
        y: {
          type: 'logarithmic', position: 'left', min: yMin, max: yMax, bounds: 'data',
          afterBuildTicks: s => { s.ticks = majors.map(v => ({ value: v })); },
          afterFit: s => { s.width = yAxisW; },
          ticks: { callback: v => powLabels[powTicks.indexOf(v)], padding: 4, autoSkip: false },
          grid: { display: false, drawTicks: false },
          border: { display: false },
          title: { display: true, text: 'keV² (Phs cm⁻²s⁻¹keV⁻¹)', padding: { top: 17.5, bottom: 0 } }
        }
      }
    },
    plugins: [crossPlugin(p.data, 1.5, 'afterDatasetsDraw'), framePlugin(majors, minors, panelNames[i])]
  });

  // ---- ratio panel ----
  const RT = T + mainH;
  const rc = addCanvas(L - yAxisW, RT - 25, yAxisW + plotW + padR, 25 + ratioH + 35 + 5);
  new Chart(rc, {
    type: 'line',
    data: { datasets: [lineDs(unityLine, '#808080', 1.3, [5, 3], false)] },
    options: {
      responsive: false, animation: false, devicePixelRatio: 1,
      layout: { padding: { top: 25, bottom: 5, left: 0, right: padR } },
      plugins: { legend: { display: false }, tooltip: { enabled: false } },
      scales: {
        x: {
          type: 'logarithmic', position: 'bottom', min: xMin, max: xMax, bounds: 'data',
          afterBuildTicks: s => { s.ticks = xMajor.map(v => ({ value: v })); },
          afterFit: s => { s.height = 35; },
          ticks: { callback: v => xLabels[xMajor.indexOf(v)], padding: 2, autoSkip: false, maxRotation: 0 },
          grid: { display: false, drawTicks: false },
          border: { display: false },
          title: { display: true, text: 'Rest Frame Energy (keV)', padding: { top: 0, bottom: 6.4 } }
        },
        y: {
          type: 'linear', position: 'left', min: ratioMin, max: ratioMax, bounds: 'data',
          afterBuildTicks: s => { s.ticks = ratioTicks.map(v => ({ value: v })); },
          afterFit: s => { s.width = yAxisW; },
          ticks: { callback: v => ratioLabels[ratioTicks.indexOf(v)], padding: 5, autoSkip: false },
          grid: { display: false, drawTicks: false },
          border: { display: false },
          title: { display: true, text: 'Ratio', padding: { top: 36.4, bottom: 0 } }
        }
      }
    },
    plugins: [crossPlugin(p.ratio, 1.7, 'beforeDatasetsDraw'), framePlugin(ratioTicks, [], null)]
  });
});
</script>
</body>
</html>
